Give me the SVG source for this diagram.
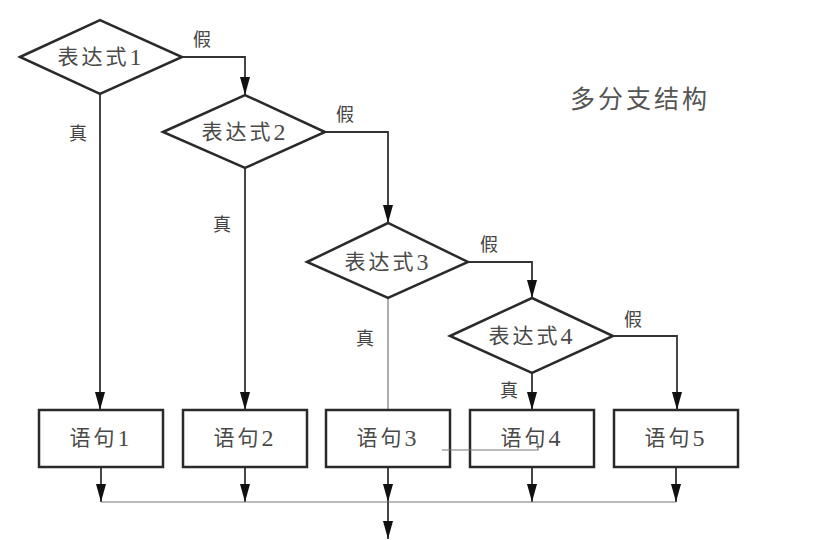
<svg xmlns="http://www.w3.org/2000/svg" width="823" height="540" viewBox="0 0 823 540">
<style>
.sh{fill:#fff;stroke:#2a2a2a;stroke-width:2.5}
.t{font-family:"Liberation Serif","Noto Sans CJK SC",serif;font-size:21px;fill:#4a4a4a;text-anchor:middle;dominant-baseline:central;letter-spacing:3px}
.t tspan{font-size:24px}
.lb{font-family:"Noto Sans CJK SC",sans-serif;font-size:18px;fill:#444;text-anchor:middle;dominant-baseline:central}
.c{fill:none;stroke:#333;stroke-width:1.8}
.thin{fill:none;stroke:#777;stroke-width:1.2}
</style>
<defs>
<marker id="ah" markerUnits="userSpaceOnUse" markerWidth="18" markerHeight="10" refX="18" refY="5" orient="auto" viewBox="0 0 18 10">
<path d="M0,0 L18,5 L0,10 Z" fill="#111"/>
</marker>
</defs>
<rect width="823" height="540" fill="#fff"/>
<text x="640" y="97" font-family="Noto Sans CJK SC,sans-serif" font-size="25" fill="#555" text-anchor="middle" dominant-baseline="central" letter-spacing="3">多分支结构</text>
<g id="connectors">
<path class="c" d="M182,57 H245 V95" marker-end="url(#ah)"/>
<path class="c" d="M325,132 H388 V223" marker-end="url(#ah)"/>
<path class="c" d="M468,262 H532 V298" marker-end="url(#ah)"/>
<path class="c" d="M613,336 H677 V410" marker-end="url(#ah)"/>
<path class="c" d="M100,94 V410" marker-end="url(#ah)"/>
<path class="c" d="M245,168 V410" marker-end="url(#ah)"/>
<path class="thin" d="M388,298 V410"/>
<path class="c" d="M532,373 V410" marker-end="url(#ah)"/>
<path class="c" d="M101,467 V502" marker-end="url(#ah)"/>
<path class="c" d="M245,467 V502" marker-end="url(#ah)"/>
<path class="c" d="M388,467 V502" marker-end="url(#ah)"/>
<path class="c" d="M532,467 V502" marker-end="url(#ah)"/>
<path class="c" d="M676,467 V502" marker-end="url(#ah)"/>
<path class="thin" d="M101,502 H676"/>
<path class="c" d="M388,502 V539" marker-end="url(#ah)"/>
<text class="lb" x="202" y="38">假</text>
<text class="lb" x="78" y="132">真</text>
<text class="lb" x="345" y="113">假</text>
<text class="lb" x="222" y="223">真</text>
<text class="lb" x="489" y="243">假</text>
<text class="lb" x="365" y="337">真</text>
<text class="lb" x="633" y="318">假</text>
<text class="lb" x="509" y="389">真</text>
</g>
<g id="d1"><polygon class="sh" points="20,57 100,20 182,57 100,94"/><text class="t" x="101" y="57">表达式<tspan>1</tspan></text></g>
<g id="d2"><polygon class="sh" points="163,132 245,95 325,132 245,168"/><text class="t" x="245" y="132">表达式<tspan>2</tspan></text></g>
<g id="d3"><polygon class="sh" points="307,262 388,223 468,262 388,298"/><text class="t" x="388" y="262">表达式<tspan>3</tspan></text></g>
<g id="d4"><polygon class="sh" points="450,336 532,298 613,336 532,373"/><text class="t" x="532" y="336">表达式<tspan>4</tspan></text></g>
<g id="s1"><rect class="sh" x="39" y="410" width="124" height="57"/><text class="t" x="101" y="438">语句<tspan>1</tspan></text></g>
<g id="s2"><rect class="sh" x="183" y="410" width="124" height="57"/><text class="t" x="245" y="438">语句<tspan>2</tspan></text></g>
<g id="s3"><rect class="sh" x="326" y="410" width="124" height="57"/><text class="t" x="388" y="438">语句<tspan>3</tspan></text></g>
<g id="s4"><rect class="sh" x="470" y="410" width="124" height="57"/><text class="t" x="532" y="438">语句<tspan>4</tspan></text></g>
<g id="s5"><rect class="sh" x="614" y="410" width="124" height="57"/><text class="t" x="676" y="438">语句<tspan>5</tspan></text></g>
<g id="stray-line"><path class="thin" d="M442,450 H538 V443"/></g>
</svg>
